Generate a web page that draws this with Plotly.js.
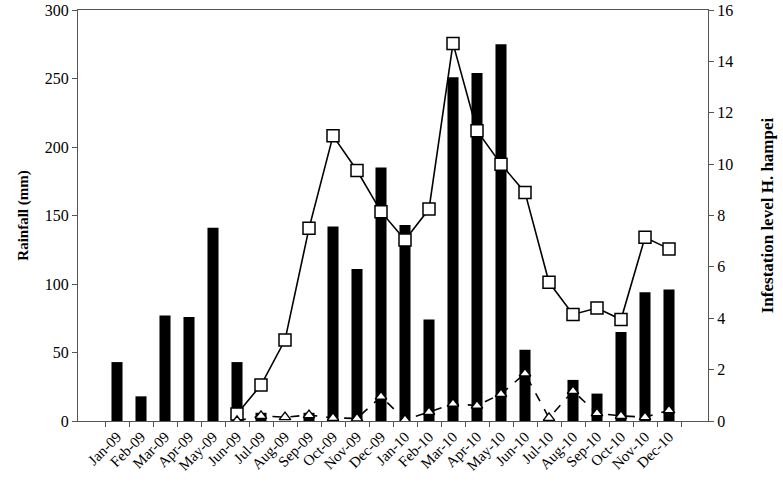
<!DOCTYPE html>
<html>
<head>
<meta charset="utf-8">
<script src="https://cdn.plot.ly/plotly-3.0.1.min.js"></script>
<style>
  body { margin: 0; background: #fff; }
  #plot { width: 783px; height: 487px; }
</style>
</head>
<body>
<div id="plot"></div>
<script>
// Months on the x axis
const months = ["Jan-09", "Feb-09", "Mar-09", "Apr-09", "May-09", "Jun-09", "Jul-09", "Aug-09",
  "Sep-09", "Oct-09", "Nov-09", "Dec-09", "Jan-10", "Feb-10", "Mar-10", "Apr-10", "May-10",
  "Jun-10", "Jul-10", "Aug-10", "Sep-10", "Oct-10", "Nov-10", "Dec-10"];

// Rainfall (mm), left axis
const rainfall = [43, 18, 77, 76, 141, 43, 6, 0, 6, 142, 111, 185, 143, 74, 251, 254, 275,
  52, 0, 30, 20, 65, 94, 96];

// Infestation level H. hampei, right axis (squares, solid)
const infestation = [null, null, null, null, null, 0.27, 1.4, 3.15, 7.5, 11.1, 9.75, 8.15,
  7.05, 8.25, 14.7, 11.3, 10.0, 8.9, 5.4, 4.15, 4.4, 3.95, 7.15, 6.7];

// Second infestation series, right axis (triangles, dashed)
const infestation2 = [null, null, null, null, null, 0, 0.2, 0.15, 0.23, 0.12, 0.1, 0.95,
  0.05, 0.35, 0.67, 0.6, 1.05, 1.85, 0.12, 1.17, 0.3, 0.2, 0.15, 0.42];

const font = "Liberation Serif, Times New Roman, serif";

const bars = {
  x: months,
  y: rainfall,
  type: "bar",
  width: 0.46,
  marker: { color: "#000" },
  hoverinfo: "x+y",
};

const squares = {
  x: months,
  y: infestation,
  yaxis: "y2",
  type: "scatter",
  mode: "lines+markers",
  line: { color: "#000", width: 1.6 },
  marker: { symbol: "square", size: 12, color: "#fff", line: { color: "#000", width: 1.5 } },
};

const triangles = {
  x: months,
  y: infestation2,
  yaxis: "y2",
  type: "scatter",
  mode: "lines+markers",
  line: { color: "#000", width: 1.6, dash: "dash" },
  marker: { symbol: "triangle-up", size: 10, color: "#fff", line: { color: "#000", width: 1.4 } },
};

const layout = {
  width: 783,
  height: 487,
  showlegend: false,
  paper_bgcolor: "#fff",
  plot_bgcolor: "#fff",
  font: { family: font, color: "#000" },
  margin: { l: 78, r: 75, t: 10, b: 66 },
  xaxis: {
    type: "category",
    showline: true,
    mirror: true,
    linecolor: "#555",
    linewidth: 1.2,
    ticks: "outside",
    tickson: "boundaries",
    ticklen: 5,
    tickcolor: "#555",
    tickangle: -45,
    tickfont: { family: font, size: 15, color: "#000" },
    showgrid: false,
  },
  yaxis: {
    range: [0, 300],
    dtick: 50,
    showline: true,
    linecolor: "#555",
    linewidth: 1.2,
    ticks: "outside",
    ticklen: 5,
    tickcolor: "#555",
    showgrid: false,
    zeroline: false,
    tickfont: { family: font, size: 16, color: "#000" },
    title: { text: "<b>Rainfall (mm)</b>", font: { family: font, size: 15 }, standoff: 12 },
  },
  yaxis2: {
    range: [0, 16],
    dtick: 2,
    overlaying: "y",
    side: "right",
    showline: true,
    linecolor: "#555",
    linewidth: 1.2,
    ticks: "outside",
    ticklen: 5,
    tickcolor: "#555",
    showgrid: false,
    zeroline: false,
    tickfont: { family: font, size: 16, color: "#000" },
    title: { text: "<b>Infestation level H. hampei</b>", font: { family: font, size: 17 }, standoff: 28 },
  },
};

Plotly.newPlot("plot", [bars, squares, triangles], layout, { displayModeBar: false });
</script>
</body>
</html>
